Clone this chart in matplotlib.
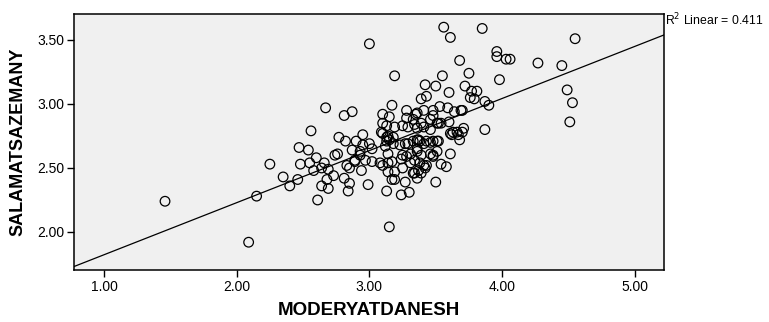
import numpy as np
import matplotlib
matplotlib.use("Agg")
import matplotlib.pyplot as plt

plt.rcParams['font.family'] = ['Liberation Sans', 'DejaVu Sans']

# scatter values
moderyat = [
    3.56, 3.61, 3.85, 3.00, 3.96, 3.96, 4.03, 3.68, 3.75, 3.19, 3.55, 3.98,
    3.42, 3.50, 3.60, 3.72, 3.77, 3.81, 3.76, 3.79, 3.39, 3.43, 3.87, 3.90,
    2.67, 2.81, 2.87, 3.17, 3.28, 3.36, 3.41, 3.48, 3.53, 3.59, 3.64, 3.69,
    3.10, 3.15, 3.10, 3.13, 3.19, 3.09, 3.13, 3.18, 3.28, 3.33, 3.35, 3.29,
    3.36, 3.41, 3.46, 3.48, 3.52, 3.54, 3.60, 3.46, 3.61, 3.63, 3.68, 3.67,
    3.71, 3.70, 3.87, 2.56, 2.77, 2.82, 2.90, 2.95, 2.95, 3.00, 3.02, 2.47,
    2.54, 2.87, 2.93, 2.97, 2.76, 2.74, 3.15, 3.12, 3.14, 3.23, 3.27, 3.33,
    3.36, 3.38, 3.41, 3.46, 3.51, 3.36, 3.39, 3.48, 3.51, 3.61, 3.25, 3.28,
    3.24, 3.31, 3.34, 3.41, 3.43, 3.54, 3.58, 2.25, 2.48, 2.55, 2.60, 2.58,
    2.64, 2.66, 2.69, 2.83, 2.85, 2.89, 2.94, 3.02, 3.08, 3.10, 3.14, 3.17,
    3.14, 3.19, 3.25, 3.33, 3.36, 3.37, 2.35, 2.40, 2.46, 2.73, 2.81, 2.68,
    2.64, 2.69, 2.85, 2.84, 2.99, 3.17, 3.19, 3.27, 3.13, 3.24, 3.30, 3.50,
    2.61, 2.15, 3.15, 2.09, 1.46, 4.55, 4.27, 4.45, 4.49, 4.53, 4.51, 4.06,
    3.25, 3.34, 3.39, 3.51, 3.66, 3.62, 3.10, 3.14, 3.13, 3.18, 3.29, 3.37,
    3.43, 3.48, 3.52, 3.31, 3.36, 3.46, 3.38, 3.42, 3.34, 3.39, 3.48, 2.93,
    2.89, 3.70,
]
salamat = [
    3.60, 3.52, 3.59, 3.47, 3.41, 3.37, 3.35, 3.34, 3.24, 3.22, 3.22, 3.19,
    3.15, 3.14, 3.09, 3.14, 3.10, 3.10, 3.05, 3.04, 3.04, 3.06, 3.02, 2.99,
    2.97, 2.91, 2.94, 2.99, 2.95, 2.93, 2.95, 2.95, 2.98, 2.97, 2.94, 2.95,
    2.92, 2.90, 2.85, 2.83, 2.82, 2.78, 2.74, 2.74, 2.89, 2.88, 2.92, 2.82,
    2.81, 2.82, 2.88, 2.91, 2.85, 2.85, 2.86, 2.80, 2.77, 2.78, 2.72, 2.76,
    2.81, 2.78, 2.80, 2.79, 2.74, 2.71, 2.71, 2.76, 2.68, 2.69, 2.65, 2.66,
    2.64, 2.64, 2.60, 2.56, 2.61, 2.60, 2.72, 2.67, 2.61, 2.68, 2.69, 2.71,
    2.72, 2.71, 2.69, 2.70, 2.71, 2.65, 2.60, 2.60, 2.63, 2.61, 2.60, 2.59,
    2.57, 2.54, 2.56, 2.52, 2.52, 2.53, 2.51, 2.53, 2.53, 2.54, 2.58, 2.48,
    2.50, 2.54, 2.49, 2.52, 2.50, 2.55, 2.48, 2.55, 2.54, 2.52, 2.54, 2.55,
    2.47, 2.47, 2.50, 2.46, 2.42, 2.48, 2.43, 2.36, 2.41, 2.44, 2.42, 2.41,
    2.36, 2.34, 2.38, 2.32, 2.37, 2.41, 2.41, 2.39, 2.32, 2.29, 2.31, 2.39,
    2.25, 2.28, 2.04, 1.92, 2.24, 3.51, 3.32, 3.30, 3.11, 3.01, 2.86, 3.35,
    2.83, 2.84, 2.85, 2.85, 2.78, 2.76, 2.77, 2.75, 2.71, 2.69, 2.69, 2.72,
    2.71, 2.71, 2.71, 2.61, 2.63, 2.61, 2.54, 2.50, 2.46, 2.46, 2.59, 2.63,
    2.56, 2.95,
]

# linear fit shown by SPSS
fit_intercept = 1.415
fit_slope = 0.407
r_squared = 0.411

x_ticks = [1.0, 2.0, 3.0, 4.0, 5.0]
y_ticks = [2.0, 2.5, 3.0, 3.5]

fig = plt.figure(figsize=(7.69, 3.22), dpi=100)
ax = fig.add_axes([0.0962, 0.1615, 0.7673, 0.795])
ax.set_facecolor('#f0f0f0')

ax.scatter(moderyat, salamat, s=48, facecolors='none', edgecolors='black',
           linewidths=0.9, zorder=3)

ax.set_xlim(0.774, 5.22)
ax.set_ylim(1.703, 3.703)

xl = np.array(ax.get_xlim())
ax.plot(xl, fit_intercept + fit_slope * xl, color='black', lw=0.9, zorder=2)

ax.set_xticks(x_ticks)
ax.set_yticks(y_ticks)
ax.set_xticklabels(['%.2f' % v for v in x_ticks])
ax.set_yticklabels(['%.2f' % v for v in y_ticks])
ax.tick_params(direction='out', length=5, width=1, labelsize=10,
               colors='black', pad=2)
for sp in ax.spines.values():
    sp.set_linewidth(1.1)
    sp.set_color('black')

ax.set_xlabel('MODERYATDANESH', fontsize=13.5, fontweight='bold', labelpad=6)
ax.set_ylabel('SALAMATSAZEMANY', fontsize=13, fontweight='bold', labelpad=8)

ax.annotate('R$^2$ Linear = %.3f' % r_squared, xy=(1.0, 0.975),
            xycoords='axes fraction', xytext=(1, 0), textcoords='offset points',
            ha='left', va='center', fontsize=8.8, annotation_clip=False)

fig.savefig('out.png', dpi=100)
